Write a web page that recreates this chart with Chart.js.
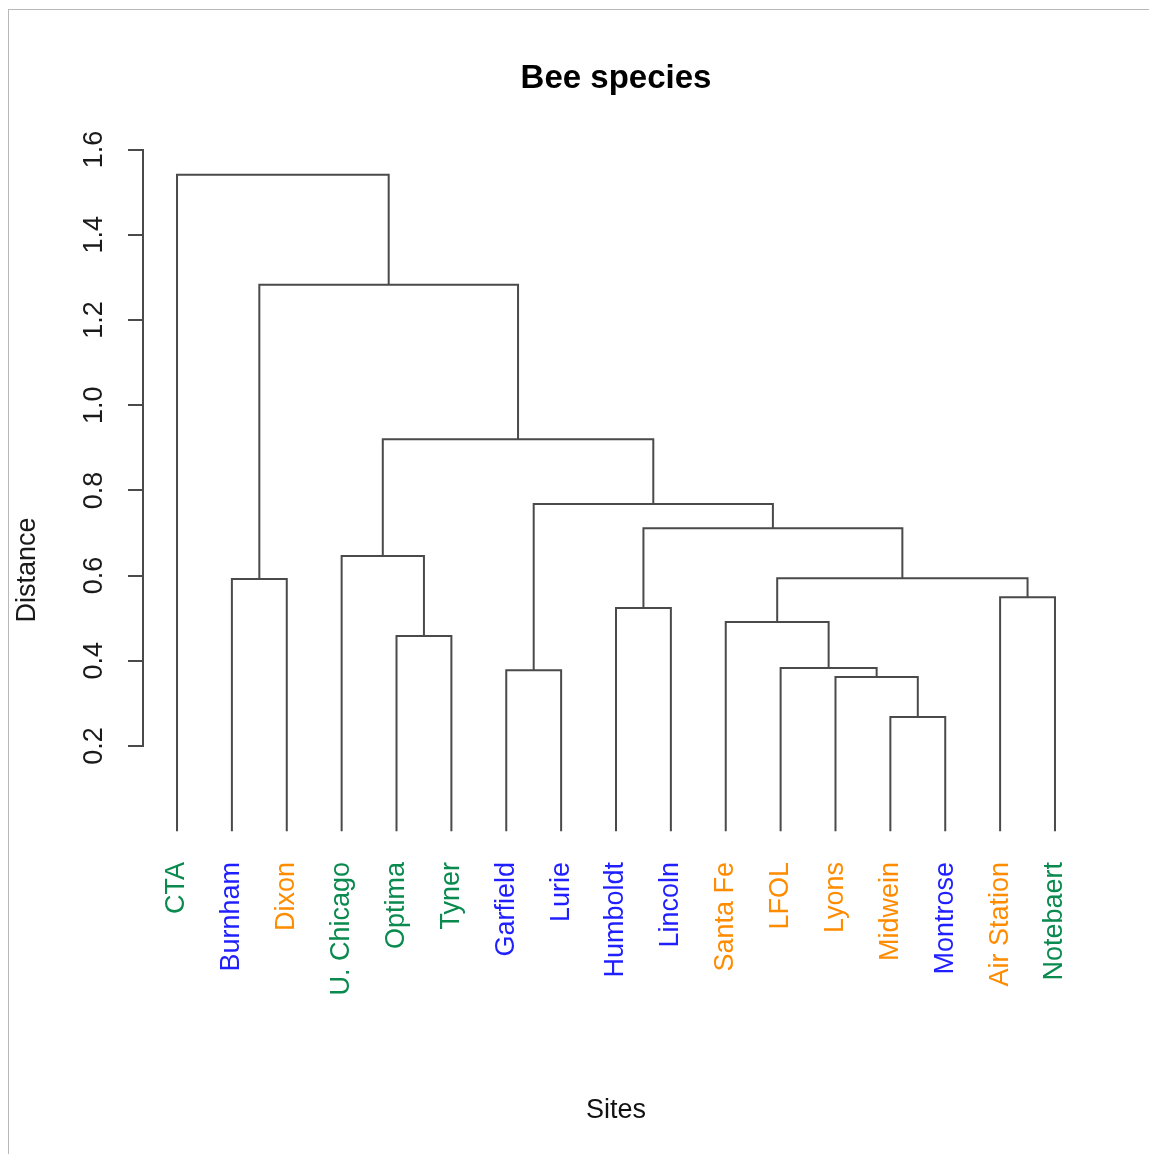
<!DOCTYPE html>
<html>
<head>
<meta charset="utf-8">
<title>Bee species</title>
<script src="https://cdn.jsdelivr.net/npm/chart.js@4.4.1/dist/chart.umd.min.js"></script>
<style>
    body { margin: 0; background: #fff; }
    #frame {
        position: absolute; left: 8px; top: 9px; right: 0; bottom: 0;
        border-top: 1px solid #b8b8b8; border-left: 1px solid #b8b8b8;
    }
    #wrap { position: absolute; left: 0; top: 0; width: 1149px; height: 1154px; }
</style>
</head>
<body>
<div id="frame"></div>
<div id="wrap"><canvas id="dendro"></canvas></div>
<script>
// Sites in dendrogram order
const sites = [
    "CTA", "Burnham", "Dixon", "U. Chicago", "Optima", "Tyner", "Garfield", "Lurie",
    "Humboldt", "Lincoln", "Santa Fe", "LFOL", "Lyons", "Midwein", "Montrose",
    "Air Station", "Notebaert",
];
const siteGroups = [
    "green", "blue", "orange", "green", "green", "green", "blue", "blue",
    "blue", "blue", "orange", "orange", "orange", "orange", "blue",
    "orange", "green",
];
const groupColors = { green: "#0a8a4f", blue: "#1f1fff", orange: "#ff8c00" };

// hclust-style merges: negative = leaf number, positive = earlier merge
const mergeLeft = [-14, -13, -7, -12, -5, -11, -9, -16, -2, 6, -4, 7, 3, 11, 9, -1];
const mergeRight = [-15, 1, -8, 2, -6, 4, -10, -17, -3, 8, 5, 10, 12, 13, 14, 15];
const mergeHeights = [
    0.268, 0.362, 0.378, 0.383, 0.458, 0.491, 0.524, 0.549,
    0.592, 0.594, 0.646, 0.711, 0.768, 0.92, 1.283, 1.541,
];

// y axis tick labels
const yTickValues = [0.2, 0.4, 0.6, 0.8, 1.0, 1.2, 1.4, 1.6];

const lineColor = "#4a4a4a";
const fontFamily = "'Liberation Sans', Arial, Helvetica, sans-serif";

// node positions: leaves at their order, merges at the midpoint of children
const mergeNodes = [];
function nodePos(id) {
    if (id < 0) return { x: -id, h: 0 };
    return mergeNodes[id - 1];
}

const linkDatasets = mergeLeft.map((left, i) => {
    const a = nodePos(left);
    const b = nodePos(mergeRight[i]);
    const h = mergeHeights[i];
    mergeNodes.push({ x: (a.x + b.x) / 2, h: h });
    return {
        data: [
            { x: a.x, y: a.h },
            { x: a.x, y: h },
            { x: b.x, y: h },
            { x: b.x, y: b.h },
        ],
        borderColor: lineColor,
        borderWidth: 2,
        borderJoinStyle: "miter",
        pointRadius: 0,
        tension: 0,
        fill: false,
        clip: false,
    };
});

// R-style labels: y tick labels and axis title turned along the axis
const rotatedLabels = {
    id: "rotatedLabels",
    afterDraw(chart) {
        const ctx = chart.ctx;
        const yScale = chart.scales.y;
        ctx.save();
        ctx.fillStyle = "#1a1a1a";
        ctx.textAlign = "center";
        ctx.textBaseline = "middle";
        ctx.font = "27px " + fontFamily;
        yScale.ticks.forEach((tick) => {
            ctx.save();
            ctx.translate(yScale.right - 48, yScale.getPixelForValue(tick.value));
            ctx.rotate(-Math.PI / 2);
            ctx.fillText(tick.value.toFixed(1), 0, 0);
            ctx.restore();
        });
        ctx.translate(28, 570);
        ctx.rotate(-Math.PI / 2);
        ctx.fillText("Distance", 0, 0);
        ctx.restore();
    },
};

window.onload = function () {
    const ctx = document.getElementById("dendro").getContext("2d");
    new Chart(ctx, {
        type: "line",
        data: { datasets: linkDatasets },
        plugins: [rotatedLabels],
        options: {
            responsive: true,
            maintainAspectRatio: false,
            animation: false,
            events: [],
            layout: {
                autoPadding: false,
                padding: { left: 0, right: 60, top: 0, bottom: 0 },
            },
            plugins: {
                legend: { display: false },
                tooltip: { enabled: false },
                title: {
                    display: true,
                    fullSize: false,
                    text: "Bee species",
                    color: "#000",
                    font: { family: fontFamily, size: 33, weight: "bold" },
                    padding: { top: 59, bottom: 51 },
                },
            },
            scales: {
                x: {
                    type: "linear",
                    min: 0.38,
                    max: 17.62,
                    grid: { display: false },
                    border: { display: false },
                    afterBuildTicks: (scale) => {
                        scale.ticks = sites.map((s, i) => ({ value: i + 1 }));
                    },
                    afterFit: (scale) => {
                        scale.height = 408;
                        // labels sit far below the axis, no side padding needed
                        scale.paddingLeft = 0;
                        scale.paddingRight = 0;
                    },
                    ticks: {
                        autoSkip: false,
                        minRotation: 90,
                        maxRotation: 90,
                        padding: 108,
                        font: { family: fontFamily, size: 27 },
                        color: (c) => groupColors[siteGroups[c.index]],
                        callback: (value) => sites[value - 1],
                    },
                    title: {
                        display: true,
                        text: "Sites",
                        color: "#111",
                        font: { family: fontFamily, size: 27 },
                        padding: { top: 0, bottom: 27 },
                    },
                },
                y: {
                    type: "linear",
                    min: yTickValues[0],
                    max: yTickValues[yTickValues.length - 1],
                    afterBuildTicks: (scale) => {
                        scale.ticks = yTickValues.map((v) => ({ value: v }));
                    },
                    afterFit: (scale) => {
                        scale.width = 143;
                    },
                    ticks: { display: false },
                    grid: {
                        drawOnChartArea: false,
                        drawTicks: true,
                        tickLength: 15,
                        color: lineColor,
                        lineWidth: 2,
                    },
                    border: { display: true, color: lineColor, width: 2 },
                },
            },
        },
    });
};
</script>
</body>
</html>
